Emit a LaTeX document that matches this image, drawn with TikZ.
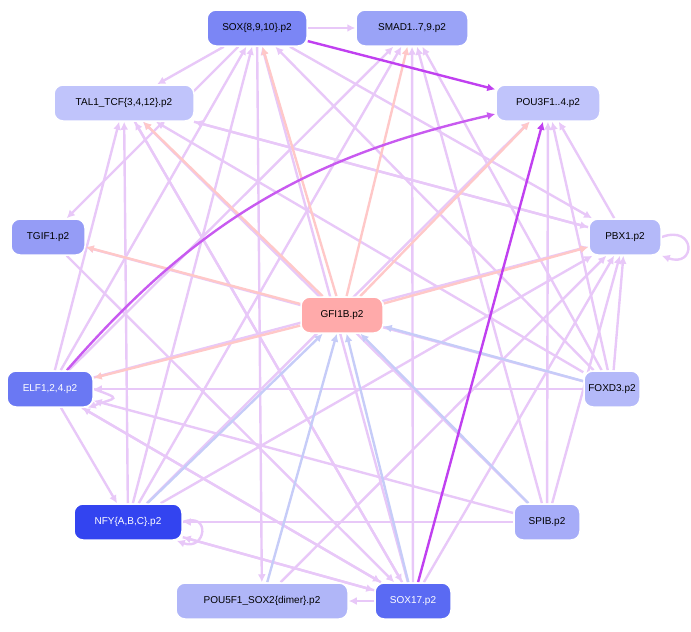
\documentclass[tikz,border=0pt]{standalone}
\usepackage{fontspec}
\setmainfont{Liberation Sans}
\usetikzlibrary{arrows.meta,backgrounds}
\begin{document}
\begin{tikzpicture}[x=1pt,y=-1pt,
 n/.style={rounded corners=9pt,draw=white,line width=1.5pt,minimum height=36pt,font=\fontsize{10}{11}\selectfont,inner sep=3pt},
 e/.style={-{Latex[length=8pt,width=8pt]},line width=2.4pt,draw=lav},
 pk/.style={e,draw=pinkE},
 bl/.style={e,draw=blueE},
 st/.style={e,draw=strong}]
\definecolor{lav}{HTML}{E8C8F8}
\definecolor{pinkE}{HTML}{FFC8C8}
\definecolor{blueE}{HTML}{C6CCF8}
\definecolor{strong}{HTML}{C040F0}
\useasboundingbox (0,0) rectangle (691,632);
\node[n,fill={rgb,255:red,123;green,134;blue,245},minimum width=100pt] (sox8) at (257,28) {SOX\{8,9,10\}.p2};
\node[n,fill={rgb,255:red,154;green,163;blue,247},minimum width=112pt] (smad) at (412,28) {SMAD1..7,9.p2};
\node[n,fill={rgb,255:red,192;green,196;blue,251},minimum width=140pt] (tal) at (124,103) {TAL1\_TCF\{3,4,12\}.p2};
\node[n,fill={rgb,255:red,192;green,196;blue,251},minimum width=104pt] (pou3) at (548,103) {POU3F1..4.p2};
\node[n,fill={rgb,255:red,149;green,156;blue,246},minimum width=74pt] (tgif) at (48,237) {TGIF1.p2};
\node[n,fill={rgb,255:red,180;green,185;blue,249},minimum width=72pt] (pbx) at (625,237) {PBX1.p2};
\node[n,fill={rgb,255:red,255;green,170;blue,170},minimum width=82pt] (gfi) at (342,315) {GFI1B.p2};
\node[n,fill={rgb,255:red,106;green,120;blue,243},text=white,minimum width=86pt] (elf) at (50,389) {ELF1,2,4.p2};
\node[n,fill={rgb,255:red,180;green,185;blue,249},minimum width=56pt] (foxd) at (612,389) {FOXD3.p2};
\node[n,fill={rgb,255:red,51;green,68;blue,240},text=white,minimum width=108pt] (nfy) at (128,522) {NFY\{A,B,C\}.p2};
\node[n,fill={rgb,255:red,166;green,172;blue,248},minimum width=66pt] (spib) at (547,522) {SPIB.p2};
\node[n,fill={rgb,255:red,176;green,182;blue,248},minimum width=172pt] (pou5) at (262,601) {POU5F1\_SOX2\{dimer\}.p2};
\node[n,fill={rgb,255:red,90;green,106;blue,243},text=white,minimum width=76pt] (sox17) at (413,601) {SOX17.p2};
\begin{pgfonlayer}{background}
\foreach \a/\b in {sox8/smad,sox8/tal,sox8/pou5,nfy/sox8,elf/sox8,sox17/sox8,foxd/sox8,
 nfy/smad,elf/smad,spib/smad,foxd/smad,sox17/smad,
 nfy/tal,elf/tal,pbx/tal,foxd/tal,sox17/tal,spib/tal,
 pbx/pou3,foxd/pou3,spib/pou3,nfy/pou3,
 sox8/tgif,foxd/tgif,
 sox8/pbx,tal/pbx,foxd/pbx,spib/pbx,sox17/pbx,nfy/pbx,pou5/pbx,elf/pbx,
 foxd/elf,spib/elf,elf/nfy,sox17/elf,
 sox17/nfy,spib/nfy,sox17/pou5,nfy/sox17,elf/sox17,tal/sox17,tgif/sox17}
 \draw[e] (\a) -- (\b);
\draw[e] (pbx.east) to[out=20,in=-20,looseness=5] (pbx.south east);
\draw[e] (elf.east) to[out=-20,in=20,looseness=4] ([xshift=-6pt]elf.south east);
\draw[e] (nfy.east) to[out=20,in=-20,looseness=4] ([xshift=-6pt]nfy.south east);
\foreach \b in {sox8,smad,tal,pou3,tgif,pbx,elf} \draw[pk] (gfi) -- (\b);
\foreach \a in {foxd,nfy,pou5,sox17,spib} \draw[bl] (\a) -- (gfi);
\draw[st] (sox8) -- (pou3);
\draw[st] (sox17) -- (pou3);
\draw[e,draw={rgb,255:red,200;green,90;blue,240}] (elf) to[bend left=18] (pou3);
\end{pgfonlayer}
\end{tikzpicture}
\end{document}
